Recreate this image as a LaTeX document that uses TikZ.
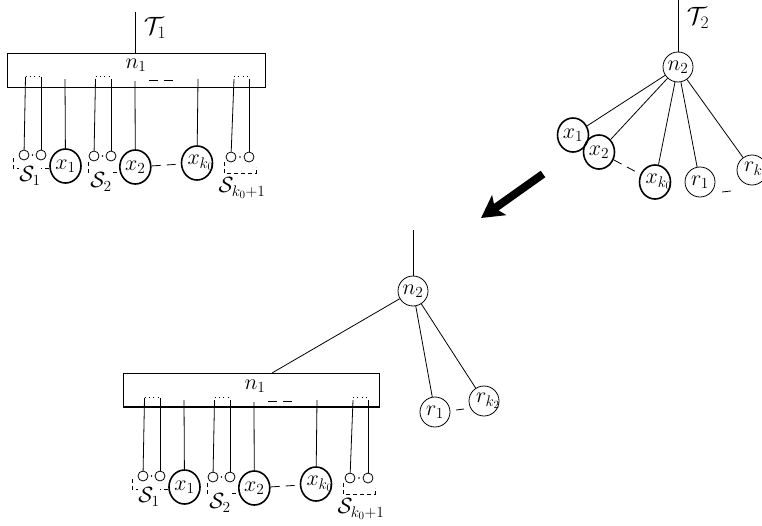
\RequirePackage{fix-cm}
\documentclass[tikz,border=0pt]{standalone}
\usetikzlibrary{arrows.meta,shapes.geometric}
\newcommand{\lblsize}{\fontsize{22}{26}\selectfont}
\newcommand{\tsize}{\fontsize{25}{29}\selectfont}
\tikzset{
  thinline/.style={line width=0.8pt},
  xnode/.style={draw, ellipse, line width=1.6pt, minimum width=31pt, minimum height=34pt, inner sep=0pt, font=\lblsize},
  rnode/.style={draw, circle, line width=0.8pt, minimum size=30pt, inner sep=0pt, font=\lblsize},
  leaf/.style={draw, circle, line width=0.8pt, minimum size=10pt, inner sep=0pt},
  pdot/.style={circle, fill, minimum size=1.6pt, inner sep=0pt},
  lbl/.style={inner sep=0pt, font=\lblsize},
  tlbl/.style={inner sep=0pt, font=\tsize},
  slbl/.style={inner sep=0.5pt, fill=white, font=\lblsize, anchor=north},
  sbox/.style={line width=0.8pt, dash pattern=on 4pt off 3pt},
  gap/.style={line width=0.8pt, dash pattern=on 9pt off 6pt},
  topdots/.style={line width=0.9pt, dash pattern=on 0.9pt off 3.5pt},
  bigbox/.style={draw, rectangle, line width=1.6pt, inner sep=0pt},
}
% one merged cluster: label n_1, the subtrees S_i, the nodes x_i
\newcommand{\branchgroup}[3]{%
\begin{scope}[shift={(#2,#3)}]
  \node[lbl] (#1lab) at (136,65) {$n_1$};
  \draw[gap] (149,80) -- (175,80);
  % leaves of the subtrees
  \node[leaf] (#1s1a) at (24,155) {};
  \node[leaf] (#1s1b) at (41,155) {};
  \node[leaf] (#1s2a) at (94,156) {};
  \node[leaf] (#1s2b) at (111,156) {};
  \node[leaf] (#1s3a) at (231,157) {};
  \node[leaf] (#1s3b) at (249,157) {};
  \node[pdot] (#1d1) at (32.5,155) {};
  \node[pdot] (#1d2) at (102.5,156) {};
  \node[pdot] (#1d3) at (240,157) {};
  % x nodes
  \node[xnode] (#1x1) at (65.5,166) {$x_1$};
  \node[xnode] (#1x2) at (135.3,167) {$x_2$};
  \node[xnode] (#1xk) at (197,163) {\makebox[19pt][l]{$x_{k_0}$}};
  % connection points inside the box
  \coordinate (#1t1) at (25.5,77);
  \coordinate (#1t2) at (41,77);
  \coordinate (#1t3) at (65,79);
  \coordinate (#1t4) at (95.5,79);
  \coordinate (#1t5) at (111,79);
  \coordinate (#1t6) at (135,81);
  \coordinate (#1t7) at (198,79);
  \coordinate (#1t8) at (234,79);
  \coordinate (#1t9) at (249,79);
  \draw[thinline] (#1t1) -- (#1s1a);
  \draw[thinline] (#1t2) -- (#1s1b);
  \draw[thinline] (#1t3) -- (#1x1);
  \draw[thinline] (#1t4) -- (#1s2a);
  \draw[thinline] (#1t5) -- (#1s2b);
  \draw[thinline] (#1t6) -- (#1x2);
  \draw[thinline] (#1t7) -- (#1xk);
  \draw[thinline] (#1t8) -- (#1s3a);
  \draw[thinline] (#1t9) -- (#1s3b);
  \draw[topdots] ([yshift=1pt]#1t1) -- ([yshift=1pt]#1t2);
  \draw[topdots] ([yshift=3pt]#1t4) -- ([yshift=3pt]#1t5);
  \draw[topdots] ([yshift=3pt]#1t8) -- ([yshift=3pt]#1t9);
  \draw[gap] (#1x2) -- (#1xk);
  % dashed frames of the subtrees
  \draw[sbox] (13,158) -- (13,168) -- (50,168);
  \draw[sbox] (88,162) -- (88,172) -- (119,172);
  \draw[sbox] (224,162) -- (224,173) -- (256,173) -- (256,167);
  \node[slbl] (#1S1) at (30,166) {$\mathcal{S}_1$};
  \node[slbl] (#1S2) at (101,172) {$\mathcal{S}_2$};
  \node[slbl] (#1S3) at (242,177) {$\mathcal{S}_{k_0+1}$};
\end{scope}}
\begin{document}
\begin{tikzpicture}[x=1pt,y=-1pt]
\useasboundingbox (0,0) rectangle (762,525);

% ---- tree T_1 ----
\node[bigbox, minimum width=258pt, minimum height=34pt] (boxA) at (136.5,70.5) {};
\coordinate (rootA) at (135,12);
\draw[thinline] (rootA) -- (rootA |- boxA.north);
\node[tlbl] (T1) at (155,28) {$\mathcal{T}_1$};
\branchgroup{A}{0}{0}

% ---- tree T_2 ----
\node[rnode] (n2t) at (678,67) {$n_2$};
\coordinate (rootB) at (678,0);
\draw[thinline] (rootB) -- (n2t);
\node[tlbl] (T2) at (698,18) {$\mathcal{T}_2$};
\node[xnode] (x1t) at (573,135) {$x_1$};
\node[xnode] (x2t) at (599,152) {$x_2$};
\node[xnode] (xkt) at (655,182) {\makebox[19pt][l]{$x_{k_0}$}};
\node[rnode] (r1t) at (700,182) {$r_1$};
\node[rnode] (rkt) at (752,170) {\makebox[16pt][l]{$r_{k_2}$}};
\foreach \c in {x1t,x2t,xkt,r1t,rkt} \draw[thinline] (n2t) -- (\c);
\draw[gap] (x2t) -- (xkt);
\draw[thinline] ([shift={(22,10)}]r1t.center) -- ++(9,-1);

% ---- merge arrow ----
\coordinate (arrA) at (543,174);
\coordinate (arrB) at (481,218);
\draw[line width=8pt, -{Stealth[length=22pt,width=24pt,inset=5pt]}] (arrA) -- (arrB);

% ---- merged tree ----
\node[rnode] (n2b) at (413,291) {$n_2$};
\coordinate (rootC) at (413,230);
\draw[thinline] (rootC) -- (n2b);
\node[rnode] (r1b) at (435,412) {$r_1$};
\node[rnode] (rkb) at (484,401) {\makebox[16pt][l]{$r_{k_2}$}};
\draw[thinline] (n2b) -- (r1b);
\draw[thinline] (n2b) -- (rkb);
\draw[thinline] ([shift={(21,-2)}]r1b.center) -- ++(8,-1);

\node[bigbox, minimum width=256pt, minimum height=33.4pt] (boxB) at (251.3,390) {};
\coordinate (joinB) at (272,373);
\draw[thinline] (n2b) -- (joinB);
\branchgroup{B}{119}{321}
\end{tikzpicture}
\end{document}
